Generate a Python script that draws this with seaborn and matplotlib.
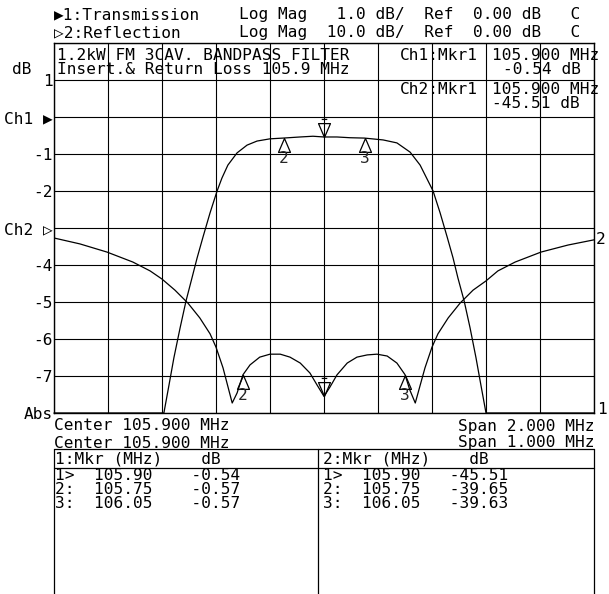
import numpy as np
import pandas as pd
import matplotlib
matplotlib.use('Agg')
import matplotlib.pyplot as plt
from matplotlib.path import Path
import seaborn as sns

sns.set_theme(style='white')
plt.rcParams['font.family'] = ['DejaVu Sans Mono', 'DejaVu Sans']
plt.rcParams['font.size'] = 11.6

# --- Channel 1: transmission, 1 dB/div, span 2 MHz (display clipped at -8 dB) ---
ch1_freq = [104.9, 105.307, 105.326, 105.344, 105.367, 105.389, 105.411, 105.430, 105.452,
            105.478, 105.504, 105.522, 105.544, 105.578, 105.615, 105.652, 105.7, 105.748,
            105.811, 105.859, 105.9, 105.948, 105.996, 106.05, 106.119, 106.170, 106.219,
            106.256, 106.304, 106.330, 106.356, 106.378, 106.396, 106.419, 106.441, 106.463,
            106.481, 106.5, 106.9]
ch1_db = [-8.0, -8.0, -7.24, -6.51, -5.70, -4.97, -4.35, -3.81, -3.24,
          -2.59, -2.0, -1.65, -1.30, -0.97, -0.76, -0.65, -0.59, -0.57,
          -0.54, -0.52, -0.54, -0.54, -0.56, -0.57, -0.62, -0.70, -0.95,
          -1.30, -2.0, -2.59, -3.24, -3.81, -4.35, -4.97, -5.70, -6.51,
          -7.24, -8.0, -8.0]

# --- Channel 2: reflection, 10 dB/div, span 1 MHz ---
ch2_freq = [105.4, 105.448, 105.498, 105.546, 105.578, 105.6, 105.624, 105.648, 105.670,
            105.689, 105.7, 105.713, 105.730, 105.739, 105.75, 105.763, 105.781, 105.8,
            105.819, 105.837, 105.856, 105.874, 105.887, 105.9, 105.911, 105.924, 105.943,
            105.961, 105.980, 105.998, 106.017, 106.035, 106.05, 106.059, 106.069, 106.087,
            106.1, 106.111, 106.130, 106.152, 106.176, 106.2, 106.222, 106.254, 106.302,
            106.352, 106.4]
ch2_db = [-2.7, -4.3, -6.5, -9.2, -11.6, -13.8, -16.8, -20.3, -24.3,
          -28.6, -32.2, -37.8, -47.3, -44.6, -39.65, -37.0, -34.9, -34.1,
          -34.1, -34.9, -36.5, -39.2, -42.4, -45.51, -43.0, -39.7, -36.5,
          -34.9, -34.3, -34.1, -34.6, -36.5, -39.63, -43.8, -47.3, -37.8,
          -32.2, -28.6, -24.3, -20.3, -16.8, -14.3, -11.6, -9.2, -6.5,
          -4.6, -3.2]

# markers (from the marker tables)
mkr_ids = ['1', '2', '3']
mkr_freq = [105.90, 105.75, 106.05]
ch1_mkr_db = [-0.54, -0.57, -0.57]
ch2_mkr_db = [-45.51, -39.65, -39.63]

ch1 = pd.DataFrame({'freq': ch1_freq, 'db': ch1_db})
ch2 = pd.DataFrame({'freq': ch2_freq, 'db': ch2_db})

W, H = 609, 594
fig = plt.figure(figsize=(W / 100, H / 100), dpi=100)
fig.patch.set_facecolor('white')

L, R, T, B = 54, 594, 43, 413
ax1 = fig.add_axes([L / W, 1 - B / H, (R - L) / W, (B - T) / H])
ax2 = fig.add_axes([L / W, 1 - B / H, (R - L) / W, (B - T) / H], frameon=False)

# overlay in pixel coordinates for annotation text and the marker table
ov = fig.add_axes([0, 0, 1, 1])
ov.set_xlim(0, W)
ov.set_ylim(H, 0)
ov.axis('off')
ov.set_zorder(10)

ax1.set_xlim(104.9, 106.9)
ax1.set_ylim(-8, 2)
ax2.set_xlim(105.4, 106.4)
ax2.set_ylim(-50, 50)

ax1.set_xticks(np.linspace(104.9, 106.9, 11))
ax1.set_xticklabels([])
ax1.set_yticks(np.arange(-8, 3, 1))
ax1.set_yticklabels(['Abs', '-7', '-6', '-5', '-4', 'Ch2 \u25b7', '-2', '-1', 'Ch1 \u25b6', '1', ''])
ax1.tick_params(axis='both', length=0, pad=1, labelsize=11.6, colors='black')
ax1.grid(True, color='black', lw=0.8)
for s in ax1.spines.values():
    s.set_color('black')
    s.set_linewidth(1.0)
ax2.set_xticks([])
ax2.set_yticks([])

sns.lineplot(data=ch1, x='freq', y='db', ax=ax1, color='black', lw=0.9,
             sort=False, estimator=None, clip_on=False)
sns.lineplot(data=ch2, x='freq', y='db', ax=ax2, color='black', lw=0.9,
             sort=False, estimator=None)
for ax in (ax1, ax2):
    ax.set_xlabel('')
    ax.set_ylabel('')

# marker symbols: triangle with apex on the trace
up_tri = Path([(0, 0), (-0.43, -1), (0.43, -1), (0, 0)])
down_tri = Path([(0, 0), (-0.43, 1), (0.43, 1), (0, 0), (-0.2, 1.3), (0.2, 1.3)],
                [Path.MOVETO, Path.LINETO, Path.LINETO, Path.LINETO, Path.MOVETO, Path.LINETO])

for ax, vals in [(ax1, ch1_mkr_db), (ax2, ch2_mkr_db)]:
    for mid, f, v in zip(mkr_ids, mkr_freq, vals):
        if mid == '1':
            ax.plot([f], [v], marker=down_tri, ms=26, mfc='none', mec='black', mew=0.9, ls='none')
        else:
            ax.plot([f], [v], marker=up_tri, ms=20, mfc='none', mec='black', mew=0.9, ls='none')
            ax.annotate(mid, (f, v), xytext=(0, -15), textcoords='offset points',
                        ha='center', va='center', fontsize=11.6)

def txt(x, y, s, **kw):
    ov.text(x, y, s, va='center', fontsize=11.6, color='black', **kw)

# header
txt(54, 15, '\u25b61:Transmission')
txt(54, 33, '\u25b72:Reflection')
txt(239, 15, 'Log Mag   1.0 dB/  Ref  0.00 dB   C')
txt(239, 33, 'Log Mag  10.0 dB/  Ref  0.00 dB   C')
txt(12, 69, 'dB')

# title block inside the graticule
txt(57, 55, '1.2kW FM 3CAV. BANDPASS FILTER')
txt(57, 69, 'Insert.& Return Loss 105.9 MHz')
txt(400, 55, 'Ch1:Mkr1')
txt(492, 55, '105.900 MHz')
txt(503, 69, '-0.54 dB')
txt(400, 90, 'Ch2:Mkr1')
txt(492, 90, '105.900 MHz')
txt(492, 104, '-45.51 dB')

# trace end labels
txt(596, 240, '2')
txt(597, 410, '1')

# stimulus
txt(54, 426, 'Center 105.900 MHz')
txt(595, 426, 'Span 2.000 MHz', ha='right')
txt(54, 443, 'Center 105.900 MHz')
txt(595, 443, 'Span 1.000 MHz', ha='right')

# marker table
lk = dict(color='black', lw=0.9)
ov.plot([54, 594], [449, 449], **lk)
ov.plot([54, 594], [468, 468], **lk)
ov.plot([54, 54], [449, 594], **lk)
ov.plot([318, 318], [449, 594], **lk)
ov.plot([594, 594], [449, 594], **lk)

tab1 = ['1:Mkr (MHz)    dB', '1>  105.90    -0.54', '2:  105.75    -0.57', '3:  106.05    -0.57']
tab2 = ['2:Mkr (MHz)    dB', '1>  105.90   -45.51', '2:  105.75   -39.65', '3:  106.05   -39.63']
for i, (a, b) in enumerate(zip(tab1, tab2)):
    y = 459 if i == 0 else 476 + (i - 1) * 14
    txt(55, y, a)
    txt(323, y, b)

fig.savefig('out.png', dpi=100)
